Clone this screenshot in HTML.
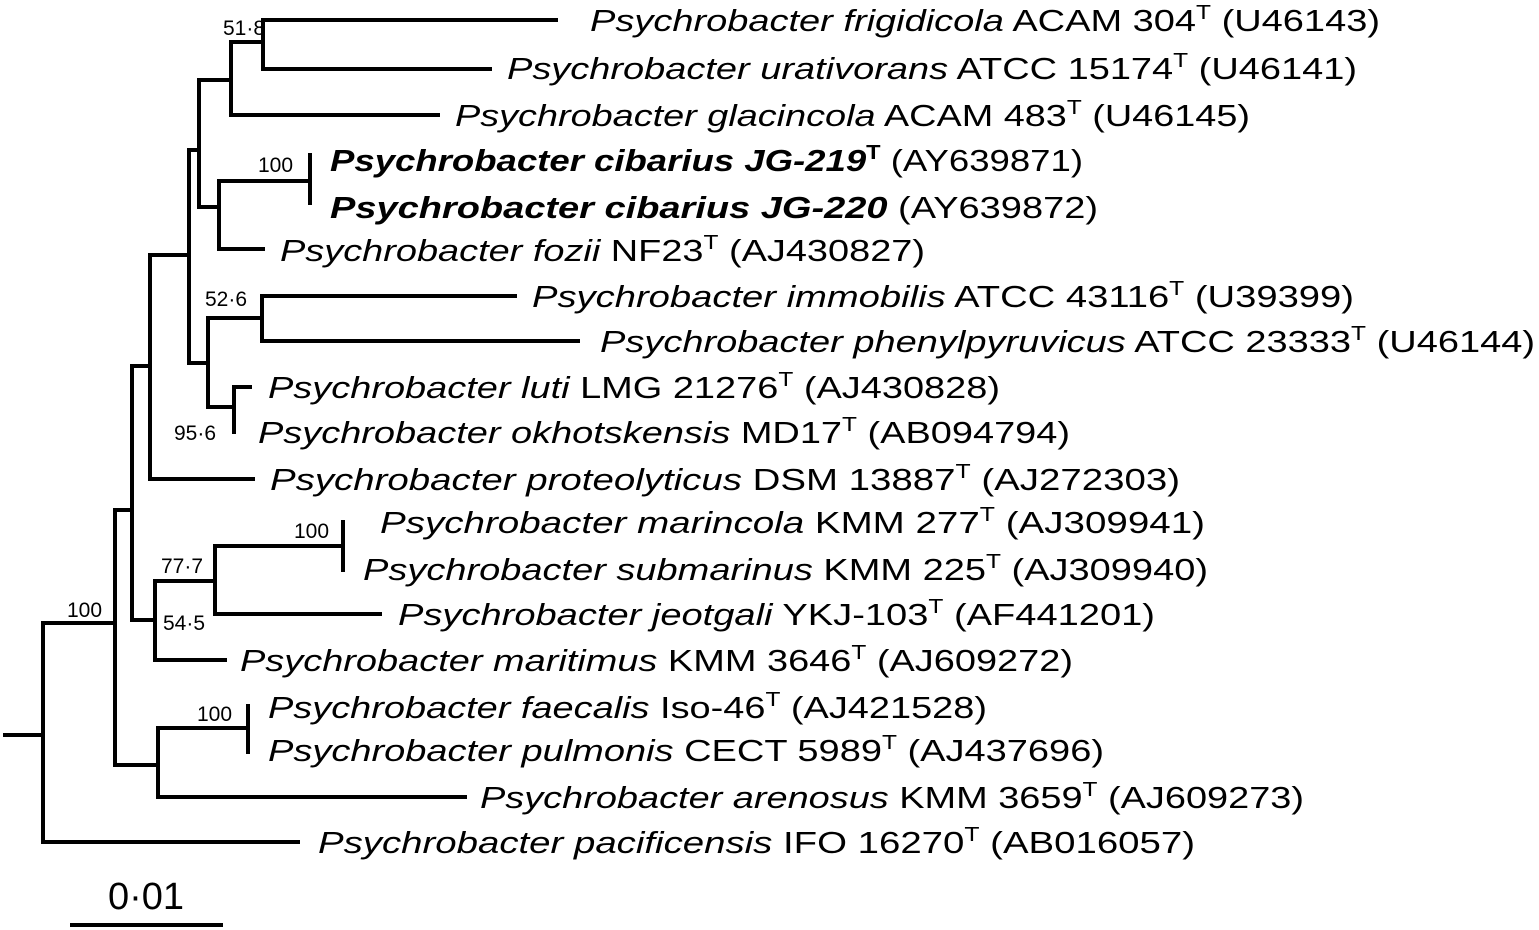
<!DOCTYPE html>
<html><head><meta charset="utf-8"><style>
html,body{margin:0;padding:0;background:#fff}
svg{display:block}
text{font-family:"Liberation Sans",Arial,sans-serif;fill:#000}
.lab{font-size:31px}
.bs{font-size:21px}
</style></head><body>
<svg width="1539" height="930" viewBox="0 0 1539 930">
<g stroke="#000" stroke-width="4" fill="none" stroke-linecap="square">
<path d="M5 735H43M43 623V842M43 623H115M43 842H298"/>
<path d="M115 510V765M115 510H132M115 765H158"/>
<path d="M158 728V797M158 728H248M248 706V752M158 797H465"/>
<path d="M132 366V620M132 366H150M132 620H155"/>
<path d="M155 581V660M155 660H225M155 581H215M215 546V614M215 614H380M215 546H343M343 522V570"/>
<path d="M150 255V479M150 479H253M150 255H189"/>
<path d="M189 150V363M189 150H199M189 363H208"/>
<path d="M208 318V407M208 318H262M262 296V341M262 296H515M262 341H578M208 407H234M234 387V432M234 387H250"/>
<path d="M199 80V207M199 80H231M199 207H219M219 181V249M219 181H310M310 155V203M219 249H263"/>
<path d="M231 42V115M231 42H263M231 115H438M263 20V69M263 20H556M263 69H490"/>
<path d="M72 925H221"/>
</g>
<g class="bs">
<text x="223" y="35">51·8</text>
<text x="258" y="172">100</text>
<text x="205" y="306">52·6</text>
<text x="174" y="440">95·6</text>
<text x="294" y="538">100</text>
<text x="161" y="573">77·7</text>
<text x="163" y="630">54·5</text>
<text x="67" y="617">100</text>
<text x="197" y="721">100</text>
</g>
<g class="lab">
<text x="590" y="31" textLength="790" lengthAdjust="spacingAndGlyphs"><tspan font-style="italic">Psychrobacter frigidicola</tspan> ACAM 304<tspan font-size="20" dy="-12">T</tspan><tspan dy="12"> (U46143)</tspan></text>
<text x="507" y="79" textLength="850" lengthAdjust="spacingAndGlyphs"><tspan font-style="italic">Psychrobacter urativorans</tspan> ATCC 15174<tspan font-size="20" dy="-12">T</tspan><tspan dy="12"> (U46141)</tspan></text>
<text x="455" y="126" textLength="795" lengthAdjust="spacingAndGlyphs"><tspan font-style="italic">Psychrobacter glacincola</tspan> ACAM 483<tspan font-size="20" dy="-12">T</tspan><tspan dy="12"> (U46145)</tspan></text>
<text x="330" y="171" textLength="753" lengthAdjust="spacingAndGlyphs"><tspan font-style="italic" font-weight="bold">Psychrobacter cibarius JG-219</tspan><tspan font-size="20" font-weight="bold" dy="-12">T</tspan><tspan dy="12"> (AY639871)</tspan></text>
<text x="330" y="218" textLength="768" lengthAdjust="spacingAndGlyphs"><tspan font-style="italic" font-weight="bold">Psychrobacter cibarius JG-220</tspan> (AY639872)</text>
<text x="280" y="261" textLength="645" lengthAdjust="spacingAndGlyphs"><tspan font-style="italic">Psychrobacter fozii</tspan> NF23<tspan font-size="20" dy="-12">T</tspan><tspan dy="12"> (AJ430827)</tspan></text>
<text x="532" y="307" textLength="822" lengthAdjust="spacingAndGlyphs"><tspan font-style="italic">Psychrobacter immobilis</tspan> ATCC 43116<tspan font-size="20" dy="-12">T</tspan><tspan dy="12"> (U39399)</tspan></text>
<text x="600" y="352" textLength="935" lengthAdjust="spacingAndGlyphs"><tspan font-style="italic">Psychrobacter phenylpyruvicus</tspan> ATCC 23333<tspan font-size="20" dy="-12">T</tspan><tspan dy="12"> (U46144)</tspan></text>
<text x="268" y="398" textLength="732" lengthAdjust="spacingAndGlyphs"><tspan font-style="italic">Psychrobacter luti</tspan> LMG 21276<tspan font-size="20" dy="-12">T</tspan><tspan dy="12"> (AJ430828)</tspan></text>
<text x="258" y="443" textLength="812" lengthAdjust="spacingAndGlyphs"><tspan font-style="italic">Psychrobacter okhotskensis</tspan> MD17<tspan font-size="20" dy="-12">T</tspan><tspan dy="12"> (AB094794)</tspan></text>
<text x="270" y="490" textLength="910" lengthAdjust="spacingAndGlyphs"><tspan font-style="italic">Psychrobacter proteolyticus</tspan>  DSM 13887<tspan font-size="20" dy="-12">T</tspan><tspan dy="12"> (AJ272303)</tspan></text>
<text x="380" y="533" textLength="825" lengthAdjust="spacingAndGlyphs"><tspan font-style="italic">Psychrobacter marincola</tspan>  KMM 277<tspan font-size="20" dy="-12">T</tspan><tspan dy="12"> (AJ309941)</tspan></text>
<text x="363" y="580" textLength="845" lengthAdjust="spacingAndGlyphs"><tspan font-style="italic">Psychrobacter submarinus</tspan> KMM 225<tspan font-size="20" dy="-12">T</tspan><tspan dy="12"> (AJ309940)</tspan></text>
<text x="398" y="625" textLength="757" lengthAdjust="spacingAndGlyphs"><tspan font-style="italic">Psychrobacter jeotgali</tspan> YKJ-103<tspan font-size="20" dy="-12">T</tspan><tspan dy="12"> (AF441201)</tspan></text>
<text x="240" y="671" textLength="833" lengthAdjust="spacingAndGlyphs"><tspan font-style="italic">Psychrobacter maritimus</tspan> KMM 3646<tspan font-size="20" dy="-12">T</tspan><tspan dy="12"> (AJ609272)</tspan></text>
<text x="268" y="718" textLength="719" lengthAdjust="spacingAndGlyphs"><tspan font-style="italic">Psychrobacter faecalis</tspan> Iso-46<tspan font-size="20" dy="-12">T</tspan><tspan dy="12"> (AJ421528)</tspan></text>
<text x="268" y="761" textLength="836" lengthAdjust="spacingAndGlyphs"><tspan font-style="italic">Psychrobacter pulmonis</tspan> CECT 5989<tspan font-size="20" dy="-12">T</tspan><tspan dy="12"> (AJ437696)</tspan></text>
<text x="480" y="808" textLength="824" lengthAdjust="spacingAndGlyphs"><tspan font-style="italic">Psychrobacter arenosus</tspan> KMM 3659<tspan font-size="20" dy="-12">T</tspan><tspan dy="12"> (AJ609273)</tspan></text>
<text x="318" y="853" textLength="877" lengthAdjust="spacingAndGlyphs"><tspan font-style="italic">Psychrobacter pacificensis</tspan>  IFO 16270<tspan font-size="20" dy="-12">T</tspan><tspan dy="12"> (AB016057)</tspan></text>
</g>
<text x="146" y="909" text-anchor="middle" font-size="38">0·01</text>
</svg>
</body></html>
